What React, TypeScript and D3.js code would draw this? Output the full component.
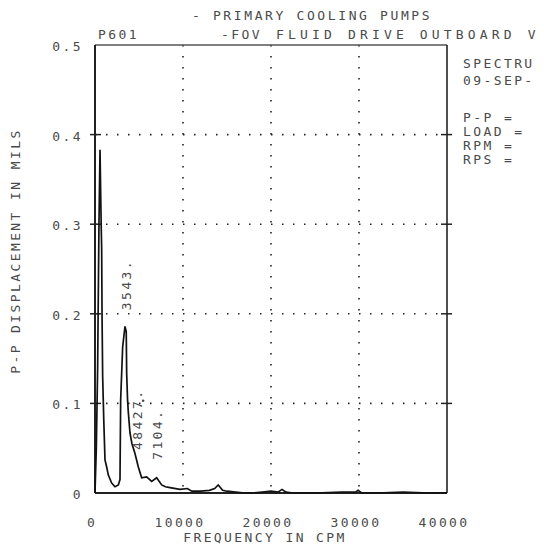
import React from "react";
import * as d3 from "d3";

const freqs = [0, 150, 300, 450, 570, 700, 757, 800, 870, 1000, 1136, 1325, 1515, 1894, 2272, 2651, 2840, 2916, 3143, 3408, 3550, 3598, 3700, 3787, 3976, 4200, 4544, 4923, 5302, 5870, 6438, 7006, 7574, 8000, 8520, 9656, 10500, 11000, 12000, 13000, 13600, 14000, 14500, 15000, 16000, 17000, 18000, 19000, 20000, 20800, 21250, 21700, 22500, 25000, 28000, 29600, 29900, 30300, 32000, 35000, 38000, 40000];
const values = [0.0, 0.05, 0.14, 0.3, 0.383, 0.3, 0.273, 0.2, 0.13, 0.08, 0.037, 0.029, 0.02, 0.011, 0.007, 0.009, 0.015, 0.104, 0.163, 0.186, 0.18, 0.134, 0.104, 0.09, 0.067, 0.055, 0.044, 0.029, 0.017, 0.018, 0.013, 0.017, 0.009, 0.007, 0.006, 0.004, 0.005, 0.002, 0.002, 0.003, 0.005, 0.009, 0.003, 0.002, 0.001, 0.0, 0.0, 0.001, 0.002, 0.001, 0.004, 0.001, 0.0, 0.0, 0.001, 0.001, 0.003, 0.0, 0.0, 0.001, 0.0, 0.0];

const xTicks = [0, 10000, 20000, 30000, 40000];
const yTicks = [0, 0.1, 0.2, 0.3, 0.4, 0.5];
const yTickLabels = ["0", "0.1", "0.2", "0.3", "0.4", "0.5"];
const peakLabels = ["3543.", "48427.", "7104."];
const peakFreqs = [3543, 4842, 7104];
const peakLabelBase = [0.204, 0.048, 0.037];
const peakDotFreqs = [4842];
const peakDotValues = [0.103];
const infoLines = ["SPECTRU", "09-SEP-", "P-P =", "LOAD =", "RPM =", "RPS ="];
const infoBaselines = [68, 85, 122, 136, 150, 164];

const FONT = "'DejaVu Sans Mono', 'Liberation Mono', monospace";
const INK = "#4a4a4a";

export default function App() {
  const L = 95, R = 447, T = 45, B = 493;
  const x = d3.scaleLinear().domain([0, 40000]).range([L, R]);
  const y = d3.scaleLinear().domain([0, 0.5]).range([B, T]);
  const pts: [number, number][] = freqs.map((f, i) => [f, values[i]]);
  const line = d3.line<[number, number]>().x(d => x(d[0])).y(d => y(d[1])).curve(d3.curveLinear);

  const textStyle = { fontFamily: FONT, fontSize: 13, letterSpacing: 2.4, fill: INK } as const;

  return (
    <svg width={544} height={545} style={{ position: "absolute", left: 0, top: 0, background: "#fff" }}>
      {[10000, 20000, 30000].map(v => (
        <line key={"gx" + v} x1={x(v)} x2={x(v)} y1={T} y2={B} stroke="#222" strokeWidth={1.6} strokeDasharray="1.5 9.5" />
      ))}
      {[0.1, 0.2, 0.3, 0.4].map(v => (
        <line key={"gy" + v} x1={L} x2={R} y1={y(v)} y2={y(v)} stroke="#222" strokeWidth={1.6} strokeDasharray="1.5 9.5" />
      ))}
      <line x1={L} x2={R} y1={T} y2={T} stroke="#555" strokeWidth={1.5} />
      <line x1={R} x2={R} y1={T} y2={B} stroke="#222" strokeWidth={1.6} />
      <line x1={L} x2={L} y1={T} y2={B} stroke="#222" strokeWidth={2} />
      <line x1={L} x2={R} y1={B} y2={B} stroke="#222" strokeWidth={1.8} />
      {yTicks.slice(1, 5).map(v => (
        <g key={"t" + v}>
          <line x1={L - 5} x2={L + 6} y1={y(v)} y2={y(v)} stroke="#222" strokeWidth={1.5} />
          <line x1={R - 6} x2={R + 5} y1={y(v)} y2={y(v)} stroke="#222" strokeWidth={1.5} />
        </g>
      ))}
      <path d={line(pts) || ""} fill="none" stroke="#111" strokeWidth={1.7} />
      {yTicks.map((v, i) => (
        <text key={"yl" + v} x={L - 12} y={y(v) + 6} textAnchor="end" style={textStyle}>{yTickLabels[i]}</text>
      ))}
      {xTicks.map(v => (
        <text key={"xl" + v} x={x(v) - 3} y={527} textAnchor="middle" style={textStyle}>{String(v)}</text>
      ))}
      <text x={x(20000) - 6} y={542} textAnchor="middle" style={textStyle}>FREQUENCY IN CPM</text>
      <text transform={`translate(20, ${y(0.27)}) rotate(-90)`} textAnchor="middle" style={textStyle}>P-P DISPLACEMENT IN MILS</text>
      <text x={192} y={20} textLength={240} lengthAdjust="spacing" style={textStyle}>- PRIMARY COOLING PUMPS</text>
      <text x={98} y={39} style={textStyle}>P601</text>
      <text x={221} y={39} style={textStyle}>-FOV</text>
      <text x={276} y={39} textLength={262} lengthAdjust="spacing" style={textStyle}>FLUID DRIVE OUTBOARD V</text>
      {infoLines.map((s, i) => (
        <text key={"info" + i} x={463} y={infoBaselines[i]} style={textStyle}>{s}</text>
      ))}
      {peakLabels.map((s, i) => (
        <text key={"pk" + i} transform={`translate(${x(peakFreqs[i]) + 4.5}, ${y(peakLabelBase[i])}) rotate(-90)`} style={textStyle}>{s}</text>
      ))}
      {peakDotFreqs.map((f, i) => (
        <circle key={"pd" + i} cx={x(f) + 5.5} cy={y(peakDotValues[i])} r={1.3} fill={INK} />
      ))}
    </svg>
  );
}
